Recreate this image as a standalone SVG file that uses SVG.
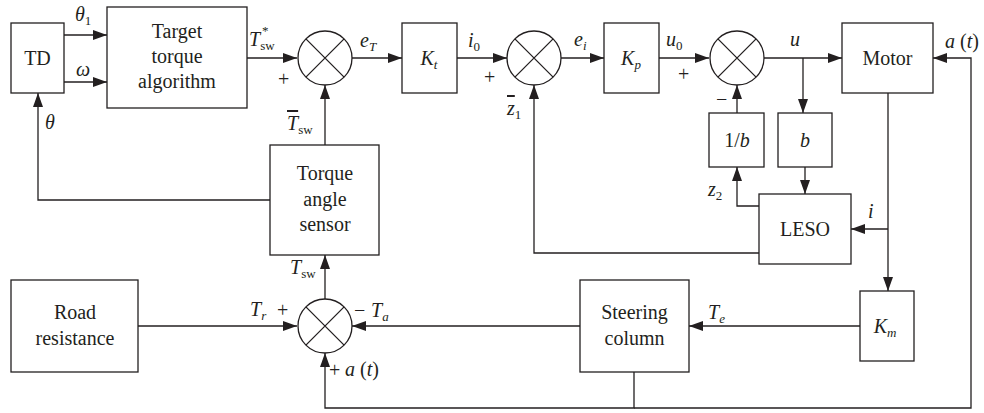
<svg xmlns="http://www.w3.org/2000/svg" width="984" height="413" viewBox="0 0 984 413" font-family="'Liberation Serif','DejaVu Serif',serif">
<defs>
<marker id="ar" markerWidth="14" markerHeight="10" refX="14" refY="5" orient="auto" markerUnits="userSpaceOnUse"><path d="M0,0 L14,5 L0,10 z" fill="#231f20"/></marker>
<style>
.b{fill:#fff;stroke:#231f20;stroke-width:1.3}
.l{fill:none;stroke:#231f20;stroke-width:1.3}
.a{marker-end:url(#ar)}
text{font-family:"Liberation Serif","DejaVu Serif",serif;font-size:20px;fill:#231f20}
.c{text-anchor:middle}
.i{font-style:italic}
.s{font-size:13px;font-style:normal}
.si{font-size:13px;font-style:italic}
</style>
</defs>
<rect width="984" height="413" fill="#fff"/>
<g id="connectors">
<path class="l a" d="M64,35 H107"/>
<path class="l a" d="M64,82 H107"/>
<path class="l a" d="M247,58 H297"/>
<path class="l a" d="M352,58 H402"/>
<path class="l a" d="M457,58 H507"/>
<path class="l a" d="M561,58 H604"/>
<path class="l a" d="M659,58 H709"/>
<path class="l a" d="M764,58 H842"/>
<path class="l a" d="M803,58 V113"/>
<path class="l a" d="M737,113 V85"/>
<path class="l a" d="M759,206 H737 V167"/>
<path class="l a" d="M805,167 V194"/>
<path class="l a" d="M888,93 V291"/>
<path class="l a" d="M888,229 H851"/>
<path class="l a" d="M759,253 H534 V85"/>
<path class="l a" d="M325,145 V85"/>
<path class="l a" d="M270,200 H38 V93"/>
<path class="l a" d="M860,326 H689"/>
<path class="l a" d="M580,326 H352"/>
<path class="l a" d="M138,326 H297"/>
<path class="l a" d="M325,299 V255"/>
<path class="l a" d="M634,408 H971 V58 H933"/>
<path class="l a" d="M634,372 V408 H325 V353"/>
</g>
<g id="td"><rect class="b" x="11" y="23" width="53" height="70"/><text class="c" x="37.5" y="65">TD</text></g>
<g id="target"><rect class="b" x="107" y="7" width="140" height="101"/><text class="c" x="177" y="38">Target</text><text class="c" x="177" y="63">torque</text><text class="c" x="177" y="88">algorithm</text></g>
<g id="sum1"><circle class="b" cx="325" cy="58" r="27"/><path class="l" d="M305.9,38.9 L344.1,77.1 M344.1,38.9 L305.9,77.1"/></g>
<g id="kt"><rect class="b" x="402" y="23" width="55" height="70"/><text class="c i" x="429" y="65">K<tspan class="si" dy="4">t</tspan></text></g>
<g id="sum2"><circle class="b" cx="534" cy="58" r="27"/><path class="l" d="M514.9,38.9 L553.1,77.1 M553.1,38.9 L514.9,77.1"/></g>
<g id="kp"><rect class="b" x="604" y="23" width="55" height="70"/><text class="c i" x="631" y="65">K<tspan class="si" dy="4">p</tspan></text></g>
<g id="sum3"><circle class="b" cx="737" cy="58" r="27"/><path class="l" d="M717.9,38.9 L756.1,77.1 M756.1,38.9 L717.9,77.1"/></g>
<g id="motor"><rect class="b" x="842" y="23" width="91" height="70"/><text class="c" x="887.5" y="65">Motor</text></g>
<g id="invb"><rect class="b" x="709" y="113" width="55" height="54"/><text class="c" x="737" y="147">1/<tspan class="i">b</tspan></text></g>
<g id="bgain"><rect class="b" x="778" y="113" width="54" height="54"/><text class="c i" x="805" y="147">b</text></g>
<g id="leso"><rect class="b" x="759" y="194" width="92" height="70"/><text class="c" x="805" y="236">LESO</text></g>
<g id="sensor"><rect class="b" x="270" y="145" width="109" height="110"/><text class="c" x="325" y="180">Torque</text><text class="c" x="325" y="206">angle</text><text class="c" x="325" y="231">sensor</text></g>
<g id="road"><rect class="b" x="11" y="280" width="127" height="92"/><text class="c" x="75" y="319">Road</text><text class="c" x="75" y="345">resistance</text></g>
<g id="sum4"><circle class="b" cx="325" cy="326" r="27"/><path class="l" d="M305.9,306.9 L344.1,345.1 M344.1,306.9 L305.9,345.1"/></g>
<g id="steering"><rect class="b" x="580" y="280" width="109" height="92"/><text class="c" x="634.5" y="319">Steering</text><text class="c" x="634.5" y="345">column</text></g>
<g id="km"><rect class="b" x="860" y="291" width="54" height="70"/><text class="c i" x="885" y="333">K<tspan class="si" dy="4">m</tspan></text></g>
<g id="labels">
<text class="i" x="75" y="21">θ<tspan class="s" dy="4">1</tspan></text>
<text class="i" x="76" y="76">ω</text>
<text class="i" x="45" y="129">θ</text>
<text class="i" x="249" y="46">T<tspan class="s" dy="4">sw</tspan></text>
<text class="s" x="262" y="35">*</text>
<text x="278" y="86">+</text>
<text class="i" x="287" y="130"><tspan text-decoration="overline">T</tspan><tspan class="s" dy="4">sw</tspan></text>
<text class="i" x="360" y="47">e<tspan class="si" dy="4">T</tspan></text>
<text class="i" x="468" y="47">i<tspan class="s" dy="4">0</tspan></text>
<text x="484" y="84">+</text>
<text class="i" x="507" y="115"><tspan text-decoration="overline">z</tspan><tspan class="s" dy="4">1</tspan></text>
<text class="i" x="574" y="46">e<tspan class="si" dy="4">i</tspan></text>
<text class="i" x="666" y="46">u<tspan class="s" dy="4">0</tspan></text>
<text x="678" y="81">+</text>
<text x="716" y="106">−</text>
<text class="i" x="790" y="46">u</text>
<text class="i" x="945" y="48">a <tspan font-style="normal">(</tspan>t<tspan font-style="normal">)</tspan></text>
<text class="i" x="708" y="196">z<tspan class="s" dy="4">2</tspan></text>
<text class="i" x="868" y="218">i</text>
<text class="i" x="290" y="274">T<tspan class="s" dy="4">sw</tspan></text>
<text class="i" x="250" y="316">T<tspan class="si" dy="4">r</tspan></text>
<text x="277" y="317">+</text>
<text x="354" y="317">−</text>
<text class="i" x="371" y="317">T<tspan class="si" dy="4">a</tspan></text>
<text x="329" y="377">+</text>
<text class="i" x="345" y="376">a <tspan font-style="normal">(</tspan>t<tspan font-style="normal">)</tspan></text>
<text class="i" x="708" y="319">T<tspan class="si" dy="4">e</tspan></text>
</g>
</svg>
